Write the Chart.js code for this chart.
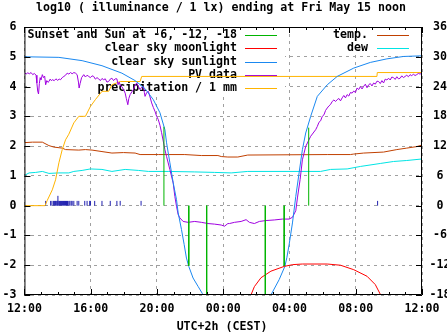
<!DOCTYPE html>
<html>
<head>
<meta charset="utf-8">
<script src="https://cdn.jsdelivr.net/npm/chart.js@4"></script>
<style>
  html, body { margin: 0; padding: 0; background: #fff; overflow: hidden; }
  canvas { display: block; }
</style>
</head>
<body>
<canvas id="chart" width="447" height="335"></canvas>
<script>
// hours after Thu 12:00 (local, UTC+2h)
const hourTicks = ["12:00", "16:00", "20:00", "00:00", "04:00", "08:00", "12:00"];

// sunset/sunrise and sun at -6, -12, -18 degrees: time and clear sky level there
const sunHours = [8.42, 9.92, 11.0, 14.54, 15.68, 17.16];
const sunLevels = [2.65, -2.02, -3.3, -3.3, -2.02, 2.62];

const moonlight = [[13.6, -3.1], [13.88, -2.72], [14.28, -2.42], [14.88, -2.2], [15.68, -2.04],
  [16.2, -1.98], [16.78, -1.96], [18.28, -1.96], [19.08, -2.0], [19.88, -2.15], [20.68, -2.37],
  [21.18, -2.65], [21.6, -3.1]];

const sunlight = [[0, 5.0], [2.08, 4.98], [3.48, 4.87], [4.68, 4.7], [5.88, 4.45], [6.68, 4.2],
  [7.28, 3.93], [7.78, 3.56], [8.18, 3.12], [8.48, 2.55], [8.58, 2.11], [8.78, 1.44], [8.98, 0.77],
  [9.18, 0.2], [9.28, -0.24], [9.48, -0.8], [9.64, -1.3], [9.78, -1.76], [9.92, -2.04],
  [10.18, -2.43], [10.48, -2.71], [10.74, -2.95], [11.0, -3.3],
  [14.6, -3.4], [14.88, -3.0], [15.38, -2.48], [15.72, -2.04], [15.84, -1.75], [15.98, -1.3],
  [16.18, -0.58], [16.38, 0.31], [16.58, 1.1], [16.78, 1.88], [16.98, 2.44], [17.28, 3.0],
  [17.68, 3.67], [18.28, 4.06], [18.88, 4.34], [19.88, 4.62], [20.88, 4.81], [21.88, 4.93],
  [22.88, 5.01], [23.88, 5.03], [24, 5.03]];

const pvData = [[0, 4.47], [0.1, 4.42], [0.2, 4.46], [0.3, 4.43], [0.4, 4.47], [0.5, 4.4],
  [0.6, 4.44], [0.7, 4.38], [0.75, 4.12], [0.8, 3.85], [0.85, 3.75], [0.9, 4.1], [0.95, 4.3],
  [1.0, 4.22], [1.08, 4.4], [1.15, 4.3], [1.22, 4.35], [1.28, 4.06], [1.35, 4.2], [1.42, 4.14],
  [1.48, 4.17], [1.55, 4.25], [1.62, 4.2], [1.68, 4.23], [1.8, 4.2], [1.9, 4.26], [2.0, 4.21],
  [2.1, 4.25], [2.18, 4.23], [2.28, 4.3], [2.38, 4.34], [2.48, 4.38], [2.58, 4.45], [2.68, 4.42],
  [2.78, 4.47], [2.88, 4.43], [2.98, 4.47], [3.08, 4.45], [3.18, 4.4], [3.26, 4.15], [3.3, 3.95],
  [3.36, 4.1], [3.45, 4.3], [3.58, 4.4], [3.68, 4.32], [3.78, 4.38], [3.88, 4.34], [3.98, 4.3],
  [4.08, 4.36], [4.18, 4.34], [4.28, 4.25], [4.38, 4.3], [4.48, 4.26], [4.58, 4.2], [4.68, 4.27],
  [4.78, 4.23], [4.88, 4.26], [4.98, 4.15], [5.08, 4.17], [5.18, 4.25], [5.28, 4.28], [5.38, 4.2],
  [5.48, 4.26], [5.58, 4.26], [5.65, 4.06], [5.72, 4.15], [5.8, 4.02], [5.88, 4.0], [5.98, 3.9],
  [6.08, 3.78], [6.15, 3.6], [6.24, 3.39], [6.3, 3.6], [6.38, 3.73], [6.48, 3.82], [6.58, 3.9],
  [6.68, 4.05], [6.78, 4.12], [6.88, 4.0], [6.98, 3.9], [7.08, 3.98], [7.18, 4.0], [7.24, 3.8],
  [7.28, 3.67], [7.38, 3.8], [7.48, 3.84], [7.58, 3.65], [7.68, 3.45], [7.78, 3.3], [7.88, 3.17],
  [7.98, 3.0], [8.08, 2.89], [8.18, 2.7], [8.28, 2.45], [8.48, 1.88], [8.58, 1.65], [8.78, 1.21],
  [8.98, 0.76], [9.08, 0.31], [9.18, -0.02], [9.28, -0.3], [9.38, -0.41], [9.58, -0.53],
  [9.88, -0.56], [10.28, -0.53], [10.68, -0.56], [11.08, -0.6], [11.48, -0.62], [11.88, -0.65],
  [12.08, -0.69], [12.28, -0.6], [12.38, -0.6], [12.68, -0.56], [13.08, -0.53], [13.38, -0.47],
  [13.58, -0.56], [13.88, -0.6], [14.18, -0.53], [14.58, -0.5], [15.08, -0.48], [15.58, -0.45],
  [15.98, -0.45], [16.18, -0.39], [16.38, -0.17], [16.48, 0.26], [16.64, 0.87], [16.78, 1.54],
  [16.98, 1.99], [17.28, 2.33], [17.58, 2.55], [17.68, 2.66], [17.78, 2.8], [17.88, 2.85],
  [17.98, 3.0], [18.08, 3.05], [18.18, 3.2], [18.28, 3.28], [18.38, 3.35], [18.48, 3.4],
  [18.58, 3.5], [18.68, 3.55], [18.78, 3.5], [18.88, 3.56], [18.98, 3.6], [19.08, 3.52],
  [19.18, 3.62], [19.28, 3.7], [19.38, 3.62], [19.48, 3.73], [19.58, 3.68], [19.68, 3.8],
  [19.78, 3.78], [19.88, 3.85], [19.98, 3.8], [20.08, 3.95], [20.18, 3.9], [20.28, 4.0],
  [20.38, 3.92], [20.48, 4.01], [20.58, 4.08], [20.68, 3.96], [20.78, 4.06], [20.88, 4.1],
  [20.98, 4.02], [21.08, 4.12], [21.18, 4.08], [21.28, 4.18], [21.38, 4.17], [21.48, 4.1],
  [21.58, 4.2], [21.68, 4.12], [21.78, 4.25], [21.88, 4.22], [21.98, 4.28], [22.08, 4.22],
  [22.18, 4.32], [22.28, 4.3], [22.38, 4.24], [22.48, 4.33], [22.58, 4.26], [22.68, 4.28],
  [22.78, 4.36], [22.88, 4.3], [22.98, 4.34], [23.08, 4.38], [23.18, 4.33], [23.28, 4.4],
  [23.38, 4.36], [23.48, 4.42], [23.58, 4.37], [23.68, 4.4], [23.78, 4.44], [23.88, 4.42],
  [24, 4.45]];

const precipitation = [[0, 0], [1.24, 0], [1.38, 0.18], [1.68, 0.53], [1.88, 0.87], [2.08, 1.44],
  [2.28, 1.88], [2.48, 2.21], [2.68, 2.4], [2.98, 2.78], [3.28, 3.0], [3.68, 3.0], [3.98, 3.33],
  [4.28, 3.56], [4.68, 3.84], [5.08, 3.84], [5.28, 4.06], [5.78, 4.17], [6.98, 4.17], [7.08, 4.34],
  [21.28, 4.34], [21.3, 4.47], [24, 4.47]];

// rain events (impulses near zero)
const rainHours = [1.28, 1.58, 1.66, 1.76, 1.82, 1.88, 1.92, 1.98, 2.02, 2.04, 2.12, 2.18, 2.24,
  2.3, 2.36, 2.42, 2.48, 2.54, 2.6, 2.68, 2.74, 2.82, 2.88, 2.98, 3.18, 3.28, 3.64, 3.78, 3.94,
  3.98, 4.24, 4.68, 5.18, 5.58, 5.78, 7.04, 21.32];
const rainHeights = [0.16, 0.16, 0.16, 0.16, 0.16, 0.16, 0.16, 0.16, 0.33, 0.16, 0.16, 0.16, 0.16,
  0.16, 0.16, 0.16, 0.16, 0.16, 0.16, 0.16, 0.16, 0.16, 0.16, 0.16, 0.16, 0.16, 0.16, 0.16, 0.16,
  0.16, 0.16, 0.16, 0.16, 0.16, 0.16, 0.16, 0.16];

// temperature and dew point, degC (right axis)
const temp = [[0, 12.7], [0.48, 12.8], [1.08, 12.8], [1.48, 12.1], [1.78, 11.8], [2.28, 11.6],
  [2.48, 11.3], [3.28, 11.2], [3.68, 11.3], [4.08, 11.2], [4.68, 10.9], [5.28, 10.6], [5.98, 10.7],
  [6.68, 10.6], [6.98, 10.3], [8.08, 10.3], [9.68, 10.3], [10.68, 10.1], [11.68, 10.1],
  [11.88, 9.9], [12.28, 9.8], [12.88, 9.8], [13.48, 10.2], [18.28, 10.3], [19.68, 10.3],
  [19.88, 10.4], [20.48, 10.6], [21.68, 10.8], [22.48, 11.3], [23.08, 11.6], [23.68, 11.9],
  [23.98, 12.2]];
const dew = [[0, 6.1], [0.28, 6.6], [0.68, 6.7], [1.08, 6.9], [1.48, 6.5], [2.08, 6.6], [2.68, 6.6],
  [2.98, 6.9], [3.48, 7.1], [3.98, 7.4], [4.68, 7.3], [5.28, 6.9], [6.08, 7.3], [6.88, 7.1],
  [7.48, 6.9], [8.68, 6.9], [10.28, 6.8], [11.48, 6.7], [12.48, 6.6], [13.48, 6.9], [17.88, 6.9],
  [18.48, 7.3], [19.48, 7.4], [20.28, 7.9], [21.48, 8.5], [22.28, 8.9], [23.08, 9.1], [23.98, 9.4]];

const toXY = arr => arr.map(p => ({x: p[0], y: p[1]}));
const impulses = (xs, ys) => {
  const out = [];
  xs.forEach((x, i) => { out.push({x: x, y: 0}, {x: x, y: ys[i]}, {x: x, y: null}); });
  return out;
};

const FAMILY = '"DejaVu Sans Mono", monospace';
const FSIZE = 11.6;
const tickFont = {family: FAMILY, size: FSIZE, weight: 'bold'};

const line = (label, data, color, axis) => ({
  label: label, data: data, borderColor: color, backgroundColor: color,
  borderWidth: 1, pointRadius: 0, tension: 0, spanGaps: false, yAxisID: axis || 'y'
});

const datasets = [
  line('Sunset and Sun at -6, -12, -18', impulses(sunHours, sunLevels), '#00b400'),
  line('clear sky moonlight', toXY(moonlight), '#ff0000'),
  line('clear sky sunlight', toXY(sunlight), '#1a88f0'),
  line('PV data', toXY(pvData), '#a000e0'),
  line('precipitation / 1 mm', toXY(precipitation), '#ffb400'),
  line('temp.', toXY(temp), '#c04000', 'y2'),
  line('dew', toXY(dew), '#00e4e4', 'y2'),
  line('rain', impulses(rainHours, rainHeights), '#2020b0')
];

const keyPlugin = {
  id: 'key',
  beforeDatasetsDraw(chart) {
    const ctx = chart.ctx;
    const a = chart.chartArea;
    ctx.save();
    ctx.fillStyle = '#fff';
    ctx.fillRect(30, a.top + 1, 255, 65);
    ctx.fillRect(292, a.top + 1, a.right - 293, 27);
    ctx.font = 'bold ' + FSIZE + 'px ' + FAMILY;
    ctx.textBaseline = 'middle';
    ctx.textAlign = 'right';
    const rows = [35, 48.3, 61.6, 75, 88.3];
    const entries = [[0, 237, 245, 0], [1, 237, 245, 1], [2, 237, 245, 2], [3, 237, 245, 3],
      [4, 237, 245, 4], [5, 368, 377, 0], [6, 368, 377, 1]];
    entries.forEach(e => {
      const ds = chart.data.datasets[e[0]];
      const y = rows[e[3]];
      ctx.fillStyle = '#000';
      ctx.fillText(ds.label, e[1], y);
      ctx.strokeStyle = ds.borderColor;
      ctx.lineWidth = 1;
      ctx.beginPath();
      ctx.moveTo(e[2], Math.round(y) + 0.5);
      ctx.lineTo(e[2] + 32, Math.round(y) + 0.5);
      ctx.stroke();
    });
    ctx.restore();
  },
  afterDraw(chart) {
    const ctx = chart.ctx;
    const a = chart.chartArea;
    const xs = chart.scales.x, ys = chart.scales.y;
    ctx.save();
    ctx.strokeStyle = '#000';
    ctx.lineWidth = 1;
    ctx.beginPath();
    ctx.rect(a.left + 0.5, a.top + 0.5, a.right - a.left - 1, a.bottom - a.top - 1);
    for (let h = 0; h <= 24; h++) {
      const px = Math.round(xs.getPixelForValue(h)) + 0.5;
      const len = h % 4 === 0 ? 6 : 3;
      ctx.moveTo(px, a.bottom); ctx.lineTo(px, a.bottom - len);
      ctx.moveTo(px, a.top); ctx.lineTo(px, a.top + len);
    }
    for (let v = -3; v <= 6; v++) {
      const py = Math.round(ys.getPixelForValue(v)) + 0.5;
      ctx.moveTo(a.left, py); ctx.lineTo(a.left + 6, py);
      ctx.moveTo(a.right, py); ctx.lineTo(a.right - 6, py);
    }
    ctx.stroke();
    ctx.fillStyle = '#000';
    ctx.font = 'bold ' + FSIZE + 'px ' + FAMILY;
    ctx.textAlign = 'center';
    ctx.textBaseline = 'middle';
    ctx.fillText('log10 ( illuminance / 1 lx) ending at Fri May 15 noon', 221, 8);
    ctx.fillText('UTC+2h (CEST)', 222, 327);
    ctx.restore();
  }
};

new Chart(document.getElementById('chart'), {
  type: 'line',
  data: {datasets: datasets},
  options: {
    responsive: false,
    animation: false,
    layout: {padding: {top: 27, left: 0, right: 0, bottom: 0}},
    plugins: {legend: {display: false}, tooltip: {enabled: false}, title: {display: false}},
    scales: {
      x: {
        type: 'linear', min: 0, max: 24,
        afterFit: s => { s.height = 40; },
        ticks: {stepSize: 4, padding: 7, color: '#000', font: tickFont, maxRotation: 0,
          callback: v => hourTicks[v / 4]},
        grid: {color: '#a0a0a0', drawTicks: false},
        border: {display: false, dash: [3, 4]}
      },
      y: {
        min: -3, max: 6,
        afterFit: s => { s.width = 22; },
        ticks: {stepSize: 1, padding: 8, color: '#000', font: tickFont, callback: v => String(v)},
        grid: {color: '#a0a0a0', drawTicks: false},
        border: {display: false, dash: [3, 4]}
      },
      y2: {
        position: 'right', min: -18, max: 36,
        afterFit: s => { s.width = 25; },
        ticks: {stepSize: 6, padding: 7.5, crossAlign: 'center', color: '#000', font: tickFont,
          callback: v => String(v)},
        grid: {display: false, drawTicks: false},
        border: {display: false}
      }
    }
  },
  plugins: [keyPlugin]
});
</script>
</body>
</html>
